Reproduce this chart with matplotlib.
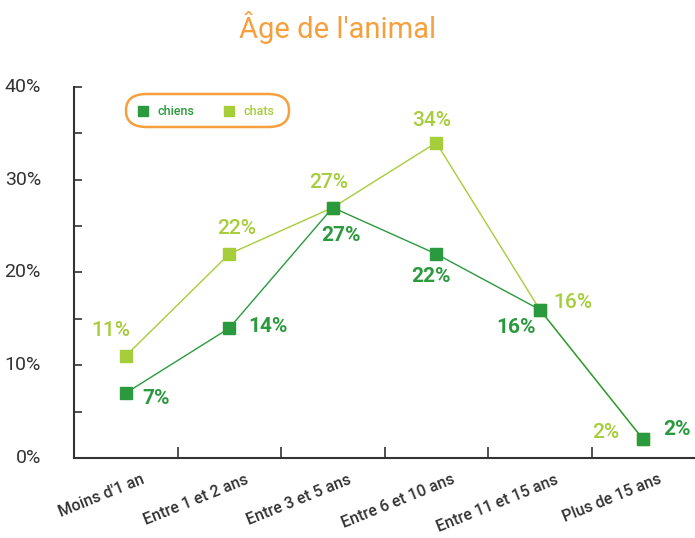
import matplotlib
matplotlib.use("Agg")
import matplotlib.pyplot as plt
from matplotlib.ticker import MultipleLocator, FixedLocator, NullFormatter
from matplotlib.patches import FancyBboxPatch

# données
categories = ["Moins d'1 an", "Entre 1 et 2 ans", "Entre 3 et 5 ans",
              "Entre 6 et 10 ans", "Entre 11 et 15 ans", "Plus de 15 ans"]
chiens = [7, 14, 27, 22, 16, 2]
chats = [11, 22, 27, 34, 16, 2]

# offsets (points) for the value labels
chiens_off = [(22, -4), (28, 1), (6, -20), (-4, -16), (-17, -13), (24, 7)]
chats_off = [(-11, 18), (5, 18), (-3, 18), (-3, 16), (24, 5), (-27, 5)]

c_chiens = "#2b9a3e"
c_chats = "#a6cd3a"
c_title = "#f5a03c"
c_axis = "#333333"

plt.rcParams['font.family'] = ['Roboto', 'DejaVu Sans']

fig = plt.figure(figsize=(6.95, 5.38), dpi=100)
ax = fig.add_axes([74 / 695, 80 / 538, 621 / 695, 371 / 538])

x = list(range(len(categories)))
ax.plot(x, chats, color=c_chats, lw=1, marker="s", ms=8, zorder=3)
ax.plot(x, chiens, color=c_chiens, lw=1, marker="s", ms=8, zorder=4)

for i, v in enumerate(chats):
    ax.annotate(f"{v}%", (i, v), xytext=chats_off[i], textcoords="offset points",
                ha="center", va="center", fontsize=15, color=c_chats,
                fontweight="medium")
for i, v in enumerate(chiens):
    ax.annotate(f"{v}%", (i, v), xytext=chiens_off[i], textcoords="offset points",
                ha="center", va="center", fontsize=15, color=c_chiens,
                fontweight="bold")

ax.set_xlim(-0.5, 5.5)
ax.set_ylim(0, 40)

# y axis
ax.yaxis.set_major_locator(MultipleLocator(10))
ax.yaxis.set_minor_locator(MultipleLocator(5))
ax.set_yticklabels([])
ax.tick_params(axis="y", which="both", direction="in", length=6, width=1.2,
               color=c_axis, left=True)
for t in range(0, 41, 10):
    ax.text(-0.82, t, f"{t}%", ha="right", va="center", fontsize=14,
            color=c_axis, transform=ax.transData, clip_on=False)

# x axis: ticks between categories
ax.xaxis.set_major_locator(FixedLocator([i + 0.5 for i in range(5)]))
ax.xaxis.set_major_formatter(NullFormatter())
ax.tick_params(axis="x", direction="in", length=8, width=1.2, color=c_axis)
for i, lab in enumerate(categories):
    ax.annotate(lab, (i, 0), xytext=(11, -10), textcoords="offset points",
                ha="right", va="top", rotation=22, fontsize=11.5,
                fontweight="medium", color=c_axis, rotation_mode="anchor",
                annotation_clip=False)

for s in ["top", "right"]:
    ax.spines[s].set_visible(False)
for s in ["left", "bottom"]:
    ax.spines[s].set_color(c_axis)
    ax.spines[s].set_linewidth(1.5)

# légende
box = FancyBboxPatch((126 / 695, 1 - 127 / 538), 163 / 695, 33 / 538,
                     boxstyle="round,pad=0,rounding_size=0.03",
                     transform=fig.transFigure, facecolor="white",
                     edgecolor=c_title, lw=1.8)
fig.patches.append(box)
fig.add_artist(plt.Line2D([143 / 695], [1 - 111 / 538], marker="s", ms=7,
                          color=c_chiens, transform=fig.transFigure))
fig.text(158 / 695, 1 - 111 / 538, "chiens", color=c_chiens, fontsize=9,
         fontweight="medium", va="center")
fig.add_artist(plt.Line2D([229 / 695], [1 - 111 / 538], marker="s", ms=7,
                          color=c_chats, transform=fig.transFigure))
fig.text(244 / 695, 1 - 111 / 538, "chats", color=c_chats, fontsize=9,
         fontweight="medium", va="center")

fig.text(338 / 695, 1 - 27 / 538, "Âge de l'animal", ha="center", va="center",
         fontsize=21, color=c_title)

fig.savefig("out.png", dpi=100)
